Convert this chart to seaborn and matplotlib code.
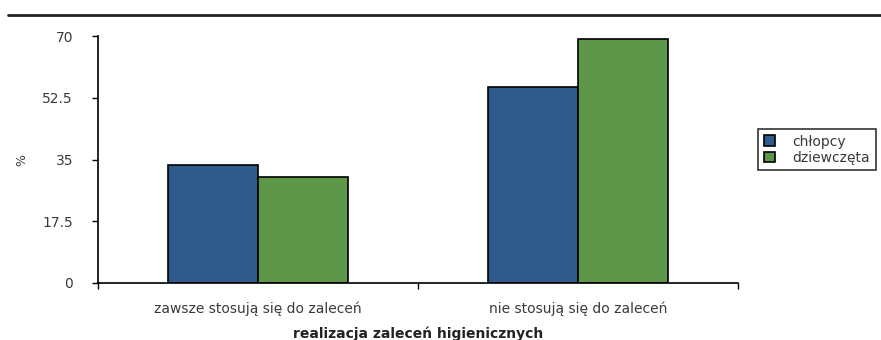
import matplotlib
matplotlib.use("Agg")
import matplotlib.pyplot as plt
from matplotlib.lines import Line2D
from matplotlib.ticker import FixedLocator, NullFormatter
import seaborn as sns
import pandas as pd

categories = ["zawsze stosują się do zaleceń", "nie stosują się do zaleceń"]
groups = ["chłopcy", "dziewczęta"]
chlopcy = [33.4, 55.5]
dziewczeta = [30.0, 69.2]
y_ticks = [0, 17.5, 35, 52.5, 70]
y_tick_labels = ["0", "17.5", "35", "52.5", "70"]

df = pd.DataFrame({
    "kategoria": categories * 2,
    "płeć": [groups[0]] * len(categories) + [groups[1]] * len(categories),
    "procent": chlopcy + dziewczeta,
})

sns.set_theme(style="white")
plt.rcParams["font.family"] = ["DejaVu Sans"]

FS = 10

fig = plt.figure(figsize=(8.81, 3.40), dpi=100)
ax = fig.add_axes([98 / 881, 57 / 340, 640 / 881, 247 / 340])

palette = {"chłopcy": "#2F5A8C", "dziewczęta": "#5E9747"}
sns.barplot(data=df, x="kategoria", y="procent", hue="płeć", order=categories,
            hue_order=groups, palette=palette, width=0.56, gap=0,
            edgecolor="black", linewidth=1.2, saturation=1, ax=ax, legend=True)

ax.set_xlim(-0.5, len(categories) - 0.5)
ax.set_ylim(0, 70)
ax.set_yticks(y_ticks)
ax.set_yticklabels(y_tick_labels, fontsize=FS, color="#3a3a3a")
ax.tick_params(axis="y", direction="out", length=4, width=1, color="black", pad=14, left=True)

# category labels centred, ticks at the category boundaries
ax.set_xticks(range(len(categories)))
ax.set_xticklabels(categories, fontsize=FS, color="#3a3a3a")
ax.tick_params(axis="x", length=0, pad=13)
ax.xaxis.set_minor_locator(FixedLocator([-0.5, 0.5, 1.5]))
ax.xaxis.set_minor_formatter(NullFormatter())
ax.tick_params(axis="x", which="minor", direction="out", length=4, width=1, color="black", bottom=True)

ax.set_xlabel("realizacja zaleceń higienicznych", fontsize=FS, fontweight="bold", labelpad=8, color="#222222")
ax.set_ylabel("%", fontsize=FS - 1, color="#3a3a3a", labelpad=10)

for side in ["top", "right"]:
    ax.spines[side].set_visible(False)
for side in ["left", "bottom"]:
    ax.spines[side].set_color("black")
    ax.spines[side].set_linewidth(1.2)

leg = ax.legend(loc="upper left", bbox_to_anchor=(758 / 881, 1 - 129 / 340),
                bbox_transform=fig.transFigure, frameon=True, fancybox=False,
                fontsize=FS, handlelength=0.8, handleheight=0.8, handletextpad=1.3,
                borderpad=0.4, labelspacing=0.15, borderaxespad=0)
leg.get_frame().set_edgecolor("black")
leg.get_frame().set_linewidth(1.2)
for t in leg.get_texts():
    t.set_color("#3a3a3a")

fig.add_artist(Line2D([8 / 881, 1.0], [1 - 15 / 340, 1 - 15 / 340], color="#222222", lw=2))

fig.savefig("out.png", dpi=100, facecolor="white")
